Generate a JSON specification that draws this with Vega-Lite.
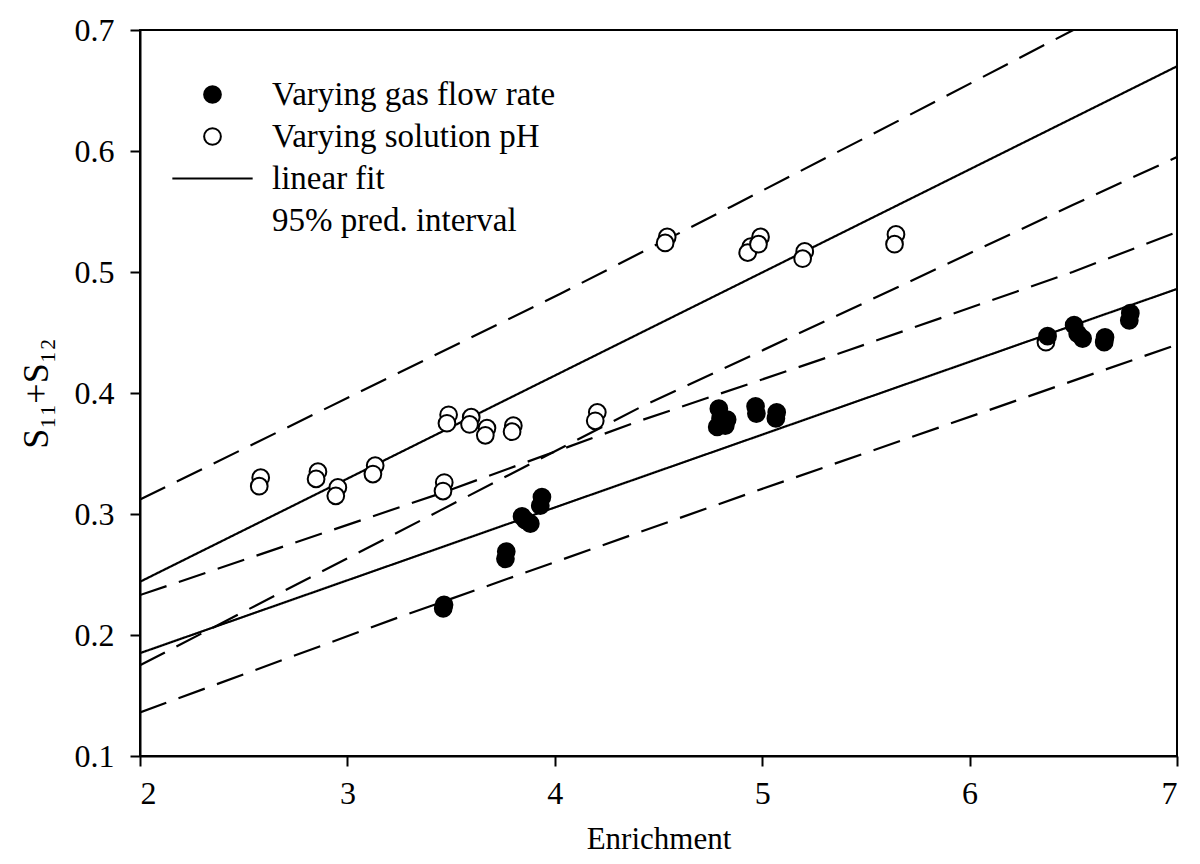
{
  "$schema": "https://vega.github.io/schema/vega-lite/v6.json",
  "width": 1037,
  "height": 726,
  "autosize": {"type": "none"},
  "padding": {"left": 140, "top": 30, "right": 23, "bottom": 108},
  "background": "white",
  "config": {
    "font": "Liberation Serif",
    "view": {"stroke": "black", "strokeWidth": 2},
    "axis": {
      "labelFont": "Liberation Serif",
      "titleFont": "Liberation Serif",
      "labelFontSize": 32,
      "titleFontSize": 31,
      "titleFontWeight": "normal",
      "labelColor": "black",
      "titleColor": "black",
      "domainColor": "black",
      "tickColor": "black",
      "domainWidth": 2,
      "tickWidth": 2,
      "tickSize": 10,
      "grid": false
    },
    "legend": {
      "orient": "none",
      "legendX": 56,
      "legendY": 48,
      "padding": 0,
      "title": null,
      "labelFont": "Liberation Serif",
      "labelFontSize": 33,
      "labelColor": "black",
      "labelOffset": 43,
      "rowPadding": 8,
      "symbolSize": 280,
      "symbolStrokeWidth": 2,
      "symbolOpacity": 1,
      "labelLimit": 700
    }
  },
  "datasets": {
    "points": [
      {"series": "Varying solution pH", "enrichment": 2.582, "s": 0.330},
      {"series": "Varying solution pH", "enrichment": 2.575, "s": 0.323},
      {"series": "Varying solution pH", "enrichment": 2.858, "s": 0.335},
      {"series": "Varying solution pH", "enrichment": 2.849, "s": 0.329},
      {"series": "Varying solution pH", "enrichment": 2.954, "s": 0.322},
      {"series": "Varying solution pH", "enrichment": 2.944, "s": 0.315},
      {"series": "Varying solution pH", "enrichment": 3.134, "s": 0.340},
      {"series": "Varying solution pH", "enrichment": 3.123, "s": 0.333},
      {"series": "Varying solution pH", "enrichment": 3.467, "s": 0.326},
      {"series": "Varying solution pH", "enrichment": 3.461, "s": 0.319},
      {"series": "Varying solution pH", "enrichment": 3.488, "s": 0.382},
      {"series": "Varying solution pH", "enrichment": 3.480, "s": 0.375},
      {"series": "Varying solution pH", "enrichment": 3.597, "s": 0.380},
      {"series": "Varying solution pH", "enrichment": 3.589, "s": 0.374},
      {"series": "Varying solution pH", "enrichment": 3.673, "s": 0.371},
      {"series": "Varying solution pH", "enrichment": 3.665, "s": 0.365},
      {"series": "Varying solution pH", "enrichment": 3.800, "s": 0.373},
      {"series": "Varying solution pH", "enrichment": 3.794, "s": 0.368},
      {"series": "Varying solution pH", "enrichment": 4.205, "s": 0.384},
      {"series": "Varying solution pH", "enrichment": 4.195, "s": 0.377},
      {"series": "Varying solution pH", "enrichment": 4.542, "s": 0.529},
      {"series": "Varying solution pH", "enrichment": 4.532, "s": 0.524},
      {"series": "Varying solution pH", "enrichment": 4.945, "s": 0.521},
      {"series": "Varying solution pH", "enrichment": 4.930, "s": 0.516},
      {"series": "Varying solution pH", "enrichment": 4.992, "s": 0.529},
      {"series": "Varying solution pH", "enrichment": 4.982, "s": 0.523},
      {"series": "Varying solution pH", "enrichment": 5.205, "s": 0.517},
      {"series": "Varying solution pH", "enrichment": 5.195, "s": 0.511},
      {"series": "Varying solution pH", "enrichment": 5.645, "s": 0.531},
      {"series": "Varying solution pH", "enrichment": 5.638, "s": 0.523},
      {"series": "Varying solution pH", "enrichment": 6.368, "s": 0.442},
      {"series": "Varying gas flow rate", "enrichment": 3.466, "s": 0.225},
      {"series": "Varying gas flow rate", "enrichment": 3.462, "s": 0.222},
      {"series": "Varying gas flow rate", "enrichment": 3.766, "s": 0.269},
      {"series": "Varying gas flow rate", "enrichment": 3.762, "s": 0.263},
      {"series": "Varying gas flow rate", "enrichment": 3.842, "s": 0.298},
      {"series": "Varying gas flow rate", "enrichment": 3.858, "s": 0.295},
      {"series": "Varying gas flow rate", "enrichment": 3.882, "s": 0.292},
      {"series": "Varying gas flow rate", "enrichment": 3.938, "s": 0.314},
      {"series": "Varying gas flow rate", "enrichment": 3.930, "s": 0.307},
      {"series": "Varying gas flow rate", "enrichment": 4.791, "s": 0.387},
      {"series": "Varying gas flow rate", "enrichment": 4.799, "s": 0.379},
      {"series": "Varying gas flow rate", "enrichment": 4.783, "s": 0.372},
      {"series": "Varying gas flow rate", "enrichment": 4.831, "s": 0.378},
      {"series": "Varying gas flow rate", "enrichment": 4.822, "s": 0.373},
      {"series": "Varying gas flow rate", "enrichment": 4.968, "s": 0.389},
      {"series": "Varying gas flow rate", "enrichment": 4.972, "s": 0.383},
      {"series": "Varying gas flow rate", "enrichment": 5.070, "s": 0.384},
      {"series": "Varying gas flow rate", "enrichment": 5.066, "s": 0.379},
      {"series": "Varying gas flow rate", "enrichment": 6.376, "s": 0.447},
      {"series": "Varying gas flow rate", "enrichment": 6.504, "s": 0.456},
      {"series": "Varying gas flow rate", "enrichment": 6.521, "s": 0.449},
      {"series": "Varying gas flow rate", "enrichment": 6.545, "s": 0.445},
      {"series": "Varying gas flow rate", "enrichment": 6.653, "s": 0.446},
      {"series": "Varying gas flow rate", "enrichment": 6.649, "s": 0.442},
      {"series": "Varying gas flow rate", "enrichment": 6.775, "s": 0.466},
      {"series": "Varying gas flow rate", "enrichment": 6.770, "s": 0.460}
    ],
    "bands": [
      {"band": "open fit", "style": "fit", "enrichment": 2, "s": 0.244},
      {"band": "open fit", "style": "fit", "enrichment": 7, "s": 0.670},
      {"band": "open upper", "style": "interval", "enrichment": 2, "s": 0.312},
      {"band": "open upper", "style": "interval", "enrichment": 4.027, "s": 0.482},
      {"band": "open upper", "style": "interval", "enrichment": 4.85, "s": 0.554},
      {"band": "open upper", "style": "interval", "enrichment": 5.668, "s": 0.626},
      {"band": "open upper", "style": "interval", "enrichment": 6.5, "s": 0.700},
      {"band": "open lower", "style": "interval", "enrichment": 2, "s": 0.175},
      {"band": "open lower", "style": "interval", "enrichment": 3.448, "s": 0.303},
      {"band": "open lower", "style": "interval", "enrichment": 4.41, "s": 0.388},
      {"band": "open lower", "style": "interval", "enrichment": 5.419, "s": 0.4686},
      {"band": "open lower", "style": "interval", "enrichment": 6.497, "s": 0.5554},
      {"band": "open lower", "style": "interval", "enrichment": 7, "s": 0.595},
      {"band": "closed fit", "style": "fit", "enrichment": 2, "s": 0.185},
      {"band": "closed fit", "style": "fit", "enrichment": 7, "s": 0.486},
      {"band": "closed upper", "style": "interval", "enrichment": 2, "s": 0.233},
      {"band": "closed upper", "style": "interval", "enrichment": 3.448, "s": 0.317},
      {"band": "closed upper", "style": "interval", "enrichment": 4.41, "s": 0.377},
      {"band": "closed upper", "style": "interval", "enrichment": 5.419, "s": 0.4355},
      {"band": "closed upper", "style": "interval", "enrichment": 6.497, "s": 0.500},
      {"band": "closed upper", "style": "interval", "enrichment": 7, "s": 0.533},
      {"band": "closed lower", "style": "interval", "enrichment": 2, "s": 0.136},
      {"band": "closed lower", "style": "interval", "enrichment": 3.255, "s": 0.2151},
      {"band": "closed lower", "style": "interval", "enrichment": 4.96, "s": 0.3184},
      {"band": "closed lower", "style": "interval", "enrichment": 5.861, "s": 0.372},
      {"band": "closed lower", "style": "interval", "enrichment": 7, "s": 0.440}
    ]
  },
  "encoding": {
    "x": {
      "field": "enrichment",
      "type": "quantitative",
      "scale": {"domain": [2, 7], "nice": false, "zero": false},
      "axis": {"title": "Enrichment", "values": [2, 3, 4, 5, 6, 7], "format": "d", "labelPadding": 12, "titlePadding": 15}
    },
    "y": {
      "field": "s",
      "type": "quantitative",
      "scale": {"domain": [0.1, 0.7], "nice": false, "zero": false},
      "axis": {"title": "S₁₁+S₁₂", "titleFontSize": 36, "values": [0.1, 0.2, 0.3, 0.4, 0.5, 0.6, 0.7], "format": ".1f", "labelPadding": 16, "titlePadding": 19}
    }
  },
  "layer": [
    {
      "data": {"name": "bands"},
      "mark": {"type": "line", "color": "black", "strokeWidth": 2.2, "clip": true},
      "encoding": {
        "detail": {"field": "band", "type": "nominal"},
        "strokeDash": {
          "field": "style",
          "type": "nominal",
          "scale": {"domain": ["fit", "interval"], "range": [[1, 0], [28, 13]]},
          "legend": null
        },
        "order": {"field": "enrichment", "type": "quantitative"}
      }
    },
    {
      "data": {"name": "points"},
      "mark": {"type": "point", "filled": true, "size": 280, "strokeWidth": 2, "opacity": 1},
      "encoding": {
        "shape": {
          "field": "series",
          "type": "nominal",
          "scale": {
            "domain": ["Varying gas flow rate", "Varying solution pH", "linear fit", "95% pred. interval"],
            "range": ["circle", "circle", "M-4.8,0L4.8,0", "M0,0"]
          }
        },
        "fill": {
          "field": "series",
          "type": "nominal",
          "scale": {
            "domain": ["Varying gas flow rate", "Varying solution pH", "linear fit", "95% pred. interval"],
            "range": ["black", "white", "transparent", "transparent"]
          }
        },
        "stroke": {
          "field": "series",
          "type": "nominal",
          "scale": {
            "domain": ["Varying gas flow rate", "Varying solution pH", "linear fit", "95% pred. interval"],
            "range": ["black", "black", "black", "transparent"]
          }
        }
      }
    }
  ]
}
